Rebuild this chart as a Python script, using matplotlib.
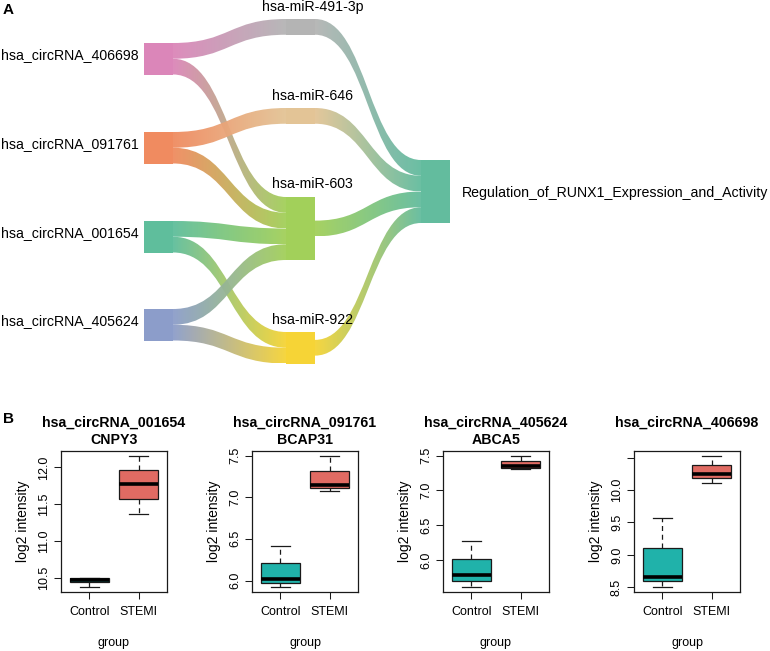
#!/usr/bin/env python3
"""
circRNA-miRNA-pathway sankey (A) and circRNA expression boxplots (B)
"""

import numpy as np
import matplotlib
matplotlib.use('Agg')
import matplotlib.pyplot as plt
from matplotlib.path import Path
from matplotlib.patches import PathPatch, Rectangle
from matplotlib.colors import LinearSegmentedColormap

plt.rcParams['font.family'] = ['Liberation Sans', 'DejaVu Sans']

# ---------------- panel A data ----------------
node_names = ['hsa_circRNA_406698', 'hsa_circRNA_091761', 'hsa_circRNA_001654',
              'hsa_circRNA_405624', 'hsa-miR-491-3p', 'hsa-miR-646', 'hsa-miR-603',
              'hsa-miR-922', 'Regulation_of_RUNX1_Expression_and_Activity']
node_colors = ['#DB86B9', '#F08B60', '#5FBE9C', '#8C9DCA', '#B4B4B4',
               '#E3C496', '#A2D05A', '#F6D436', '#63BC9E']
link_source = [0, 0, 1, 1, 2, 2, 3, 3, 4, 5, 6, 7]
link_target = [4, 6, 5, 6, 6, 7, 6, 7, 8, 8, 8, 8]
link_value = [1, 1, 1, 1, 1, 1, 1, 1, 1, 1, 1, 1]

# ---------------- panel B data ----------------
box_titles = [('hsa_circRNA_001654', 'CNPY3'), ('hsa_circRNA_091761', 'BCAP31'),
              ('hsa_circRNA_405624', 'ABCA5'), ('hsa_circRNA_406698', '')]
groups = ['Control', 'STEMI']
# whislo, q1, median, q3, whishi
control_stats = [[10.38, 10.44, 10.47, 10.50, 10.50],
                 [5.925, 5.973, 6.024, 6.215, 6.414],
                 [5.614, 5.694, 5.780, 6.019, 6.276],
                 [8.510, 8.597, 8.658, 9.100, 9.565]]
stemi_stats = [[11.365, 11.572, 11.78, 11.96, 12.153],
               [7.078, 7.106, 7.142, 7.316, 7.492],
               [7.310, 7.319, 7.351, 7.419, 7.490],
               [10.107, 10.178, 10.24, 10.378, 10.52]]
y_ticks = [[10.5, 11.0, 11.5, 12.0], [6.0, 6.5, 7.0, 7.5],
           [6.0, 6.5, 7.0, 7.5], [8.5, 9.0, 9.5, 10.0, 10.5]]
y_ticklabels = [['10.5', '11.0', '11.5', '12.0'], ['6.0', '6.5', '7.0', '7.5'],
                ['6.0', '6.5', '7.0', '7.5'], ['8.5', '9.0', '9.5', '10.0', '']]
group_colors = ['#20B2AA', '#E06B63']

W, H = 770, 651
fig = plt.figure(figsize=(W / 100, H / 100), dpi=100)

# ---------------- sankey (pixel-space layout) ----------------
axA = fig.add_axes([0, 0, 1, 1])
axA.axis('off')

SCALE = 15.75          # px per unit flow
NODE_W = 29
col_x = [144, 286, 421]
node_col = [0, 0, 0, 0, 1, 1, 1, 1, 2]
node_top = [43, 132, 221, 309, 19, 108, 197, 332, 160]

n_nodes = len(node_names)
in_sum = [0.0] * n_nodes
out_sum = [0.0] * n_nodes
for s, t, v in zip(link_source, link_target, link_value):
    out_sum[s] += v
    in_sum[t] += v
node_h = [max(i, o) * SCALE for i, o in zip(in_sum, out_sum)]

# offsets of links inside nodes (sorted by the other end's position)
out_y, in_y = {}, {}
for n in range(n_nodes):
    outs = sorted([k for k in range(len(link_source)) if link_source[k] == n],
                  key=lambda k: node_top[link_target[k]])
    y = node_top[n] + (node_h[n] - out_sum[n] * SCALE) / 2
    for k in outs:
        out_y[k] = y
        y += link_value[k] * SCALE
    ins = sorted([k for k in range(len(link_source)) if link_target[k] == n],
                 key=lambda k: node_top[link_source[k]])
    y = node_top[n] + (node_h[n] - in_sum[n] * SCALE) / 2
    for k in ins:
        in_y[k] = y
        y += link_value[k] * SCALE

gradient = np.linspace(0, 1, 256).reshape(1, -1)
for k, (s, t, v) in enumerate(zip(link_source, link_target, link_value)):
    x0 = col_x[node_col[s]] + NODE_W
    x1 = col_x[node_col[t]]
    xm = (x0 + x1) / 2
    th = v * SCALE
    y0a, y1a = out_y[k], in_y[k]
    y0b, y1b = y0a + th, y1a + th
    verts = [(x0, y0a), (xm, y0a), (xm, y1a), (x1, y1a),
             (x1, y1b), (xm, y1b), (xm, y0b), (x0, y0b), (x0, y0a)]
    codes = [Path.MOVETO, Path.CURVE4, Path.CURVE4, Path.CURVE4,
             Path.LINETO, Path.CURVE4, Path.CURVE4, Path.CURVE4, Path.CLOSEPOLY]
    patch = PathPatch(Path(verts, codes), facecolor='none', edgecolor='none')
    axA.add_patch(patch)
    cmap = LinearSegmentedColormap.from_list('lk%d' % k, [node_colors[s], node_colors[t]])
    im = axA.imshow(gradient, cmap=cmap, aspect='auto', interpolation='bilinear',
                    extent=(x0, x1, max(y0b, y1b), min(y0a, y1a)), alpha=0.95)
    im.set_clip_path(patch)

for n in range(n_nodes):
    x = col_x[node_col[n]]
    axA.add_patch(Rectangle((x, node_top[n]), NODE_W, node_h[n],
                            facecolor=node_colors[n], edgecolor='none', zorder=3))
    cy = node_top[n] + node_h[n] / 2
    if node_col[n] == 0:
        axA.text(x - 5, cy, node_names[n], ha='right', va='baseline', fontsize=10.2)
    elif node_col[n] == 1:
        axA.text(x + NODE_W / 2 + 12, node_top[n] - 12.5, node_names[n],
                 ha='center', va='center', fontsize=10.2, zorder=4)
    else:
        axA.text(x + NODE_W + 12, cy + 2, node_names[n], ha='left', va='center',
                 fontsize=10.2)

axA.text(8, 10, 'A', fontsize=11, fontweight='bold', ha='center', va='center')
axA.text(9, 419, 'B', fontsize=11, fontweight='bold', ha='center', va='center')
axA.set_xlim(0, W)
axA.set_ylim(H, 0)

# ---------------- boxplots ----------------
panel_left = [61, 252, 443, 634]
p_top, p_w, p_h = 451, 106, 141

for i in range(4):
    ax = fig.add_axes([panel_left[i] / W, 1 - (p_top + p_h) / H, p_w / W, p_h / H])
    stats = []
    for g, st in zip(groups, [control_stats[i], stemi_stats[i]]):
        stats.append(dict(whislo=st[0], q1=st[1], med=st[2], q3=st[3],
                          whishi=st[4], label=g))
    bp = ax.bxp(stats, positions=[1, 2], widths=0.8, capwidths=0.4,
                patch_artist=True, showfliers=False,
                boxprops=dict(edgecolor='#1a1a1a', linewidth=0.9),
                whiskerprops=dict(color='#1a1a1a', linestyle=(0, (4, 3)), linewidth=0.9),
                capprops=dict(color='#1a1a1a', linewidth=0.9),
                medianprops=dict(color='black', linewidth=2.6, solid_capstyle='butt'))
    for box, c in zip(bp['boxes'], group_colors):
        box.set_facecolor(c)

    lo = min(control_stats[i][0], stemi_stats[i][0])
    hi = max(control_stats[i][4], stemi_stats[i][4])
    pad = (hi - lo) * 0.04
    ax.set_ylim(lo - pad, hi + pad)
    ax.set_xlim(0.42, 2.58)
    ax.set_yticks(y_ticks[i])
    ax.set_yticklabels(y_ticklabels[i], rotation=90, va='center')
    ax.set_xticks([1, 2])
    ax.set_xticklabels(groups)
    ax.tick_params(axis='both', direction='out', length=5, width=0.75,
                   labelsize=9, color='#1a1a1a')
    ax.tick_params(axis='x', pad=5)
    ax.tick_params(axis='y', pad=3)
    for sp in ax.spines.values():
        sp.set_linewidth(0.9)
        sp.set_color('#1a1a1a')

    ax.text(0.5, -51 / p_h, 'group', transform=ax.transAxes, ha='center',
            va='center', fontsize=9)
    ax.text(-38 / p_w, 0.5, 'log2 intensity', transform=ax.transAxes, ha='center',
            va='center', rotation=90, fontsize=10)
    ax.text(0.5, 1 + (p_top - 423) / p_h, box_titles[i][0], transform=ax.transAxes,
            ha='center', va='center', fontsize=10.2, fontweight='bold')
    if box_titles[i][1]:
        ax.text(0.5, 1 + (p_top - 439.5) / p_h, box_titles[i][1], transform=ax.transAxes,
                ha='center', va='center', fontsize=10.2, fontweight='bold')

plt.savefig('out.png', dpi=100)
